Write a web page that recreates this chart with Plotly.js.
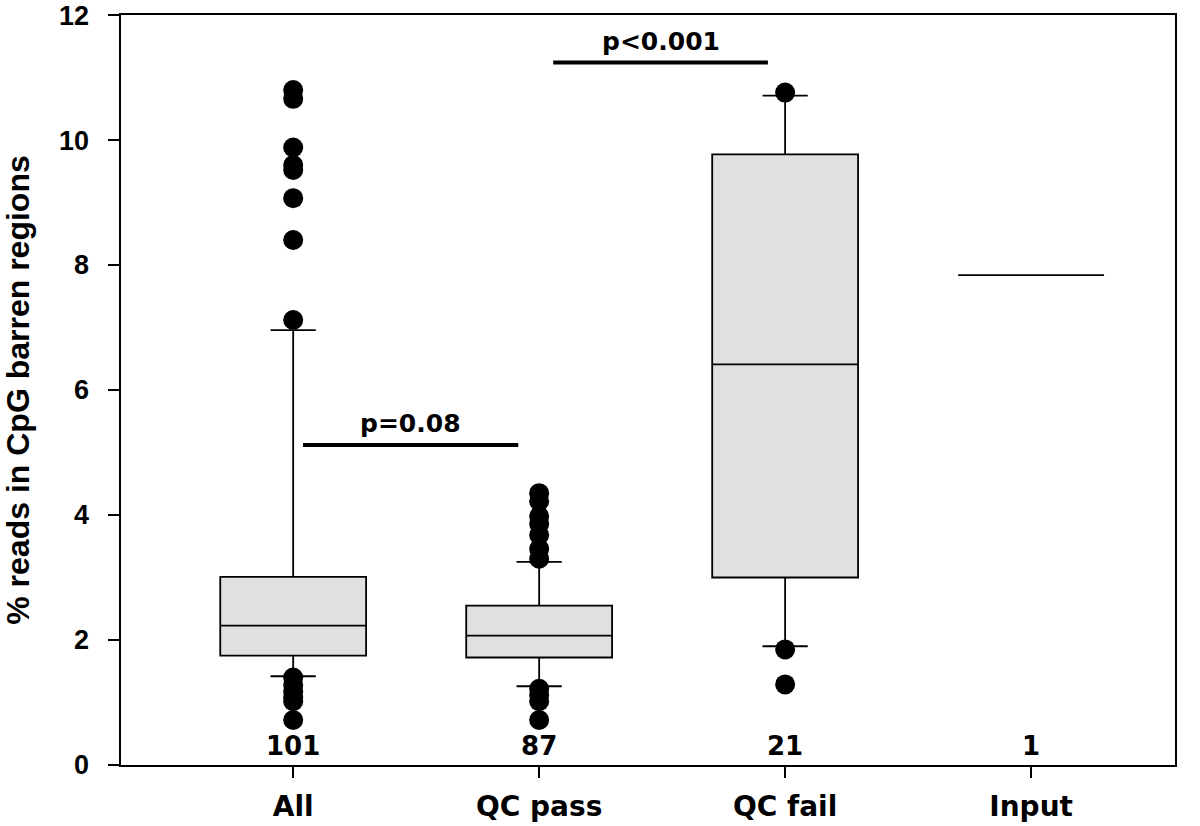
<!DOCTYPE html>
<html>
<head>
<meta charset="utf-8">
<script src="https://cdn.plot.ly/plotly-3.0.1.min.js"></script>
<style>html,body{margin:0;padding:0;background:#fff;}#chart{width:1200px;height:826px;}</style>
</head>
<body>
<div id="chart"></div>
<script>
// ---- data ----
var categories = ["All", "QC pass", "QC fail", "Input"];
var q1Vals = [1.75, 1.72, 3.00, 7.84];
var medianVals = [2.23, 2.07, 6.41, 7.84];
var q3Vals = [3.01, 2.55, 9.77, 7.84];
var lowerWhisker = [1.42, 1.26, 1.90, 7.84];
var upperWhisker = [6.96, 3.25, 10.71, 7.84];
var outliersAll = [10.80, 10.66, 9.88, 9.60, 9.52, 9.07, 8.40, 7.12, 1.40, 1.28, 1.18, 1.08, 1.02, 0.72];
var outliersQCpass = [4.35, 4.22, 3.98, 3.86, 3.68, 3.46, 3.30, 1.22, 1.12, 1.02, 0.72];
var outliersQCfail = [10.76, 1.85, 1.29];
var outliersInput = [];
var counts = ["101", "87", "21", "1"];
var countY = 0.26;
var pLabels = ["p=0.08", "p<0.001"];
var pX0 = [0.04, 1.057];
var pX1 = [0.915, 1.93];
var pY = [5.12, 11.24];
var yTicks = [0, 2, 4, 6, 8, 10, 12];

// ---- build traces ----
var arialFont = "Liberation Sans, Arial, sans-serif";
var wideFont = "DejaVu Sans, Liberation Sans, sans-serif";
var traces = [];
traces.push({
  type: "box",
  x: categories,
  q1: q1Vals, median: medianVals, q3: q3Vals,
  lowerfence: lowerWhisker, upperfence: upperWhisker,
  width: 0.593,
  whiskerwidth: 0.31,
  fillcolor: "#e0e0e0",
  line: {color: "#000", width: 1.8},
  boxpoints: false,
  hoverinfo: "skip",
  showlegend: false
});
var outlierSets = [outliersAll, outliersQCpass, outliersQCfail, outliersInput];
var ox = [], oy = [];
outlierSets.forEach(function(arr, i){ arr.forEach(function(v){ ox.push(categories[i]); oy.push(v); }); });
traces.push({
  type: "scatter", mode: "markers", x: ox, y: oy,
  marker: {color: "#000", size: 20},
  hoverinfo: "skip", showlegend: false, cliponaxis: false
});
traces.push({
  type: "scatter", mode: "text", x: categories,
  y: categories.map(function(){ return countY; }),
  text: counts, textposition: "middle center",
  textfont: {family: wideFont, size: 26, color: "#000", weight: "bold"},
  hoverinfo: "skip", showlegend: false
});

var shapes = [], annotations = [];
for (var i = 0; i < pLabels.length; i++) {
  shapes.push({type: "line", xref: "x", yref: "y", x0: pX0[i], x1: pX1[i], y0: pY[i], y1: pY[i],
    line: {color: "#000", width: 4}});
  annotations.push({xref: "x", yref: "y", x: (pX0[i] + pX1[i]) / 2, y: pY[i], yshift: 5,
    yanchor: "bottom",
    text: "<b>" + pLabels[i] + "</b>", showarrow: false,
    font: {family: wideFont, size: 25, color: "#000"}});
}

var layout = {
  width: 1200, height: 826,
  margin: {l: 121, r: 25, t: 15, b: 61},
  paper_bgcolor: "#fff", plot_bgcolor: "#fff",
  showlegend: false,
  xaxis: {
    type: "category", categoryorder: "array", categoryarray: categories,
    range: [-0.7, 3.585],
    showgrid: false, zeroline: false,
    showline: true, linecolor: "#000", linewidth: 1.6, mirror: true,
    ticks: "outside", ticklen: 11, tickwidth: 1.4, tickcolor: "#000",
    ticklabelstandoff: 5,
    tickfont: {family: wideFont, size: 28, color: "#000", weight: "bold"}
  },
  yaxis: {
    range: [0, 12.001], tickvals: yTicks, ticktext: yTicks.map(String),
    ticklabeloverflow: "allow",
    showgrid: false, zeroline: false,
    showline: true, linecolor: "#000", linewidth: 1.6, mirror: true,
    ticks: "outside", ticklen: 11, tickwidth: 1.4, tickcolor: "#000",
    ticklabelstandoff: 14,
    tickfont: {family: arialFont, size: 27, color: "#000", weight: "bold"},
    title: {text: "% reads in CpG barren regions", standoff: 26,
      font: {family: arialFont, size: 32, color: "#000", weight: "bold"}}
  },
  shapes: shapes,
  annotations: annotations
};

Plotly.newPlot("chart", traces, layout, {staticPlot: true, displayModeBar: false});
</script>
</body>
</html>
